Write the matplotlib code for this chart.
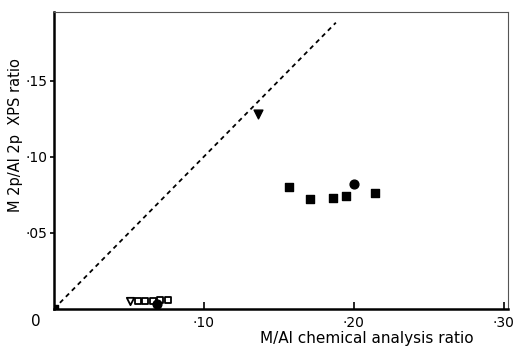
import matplotlib
matplotlib.use('Agg')
import matplotlib.pyplot as plt

# filled squares
sq_x = [0.0, 0.157, 0.171, 0.186, 0.195, 0.214]
sq_y = [0.0, 0.080, 0.072, 0.073, 0.074, 0.076]
# open squares
osq_x = [0.056, 0.061, 0.066, 0.071, 0.076]
osq_y = [0.005, 0.005, 0.005, 0.006, 0.006]
# filled circles
circ_x = [0.200, 0.069]
circ_y = [0.082, 0.003]
# filled triangle
tri_x = [0.136]
tri_y = [0.128]
# open triangle
otri_x = [0.051]
otri_y = [0.005]
# 1:1 line
line_x = [0.0, 0.188]
line_y = [0.0, 0.188]

xticks = [0.10, 0.20, 0.30]
xlabels = ['·10', '·20', '·30']
yticks = [0.05, 0.10, 0.15]
ylabels = ['·05', '·10', '·15']

fig = plt.figure(figsize=(5.14, 3.53), dpi=100)
ax = fig.add_axes([0.105, 0.125, 0.883, 0.841])

ax.plot(line_x, line_y, color='black', linestyle=(0, (2.5, 2.2)), linewidth=1.3)
ax.scatter(sq_x, sq_y, marker='s', s=30, color='black', zorder=3)
ax.scatter(osq_x, osq_y, marker='s', s=20, facecolor='white', edgecolor='black', linewidth=1.3, zorder=3)
ax.scatter(circ_x, circ_y, marker='o', s=40, color='black', zorder=4)
ax.scatter(tri_x, tri_y, marker='v', s=40, color='black', zorder=3)
ax.scatter(otri_x, otri_y, marker='v', s=28, facecolor='white', edgecolor='black', linewidth=1.3, zorder=3)

ax.set_xlim(0, 0.3027)
ax.set_ylim(0, 0.195)
ax.set_xticks(xticks)
ax.set_xticklabels(xlabels, fontsize=10)
ax.set_yticks(yticks)
ax.set_yticklabels(ylabels, fontsize=10)
ax.tick_params(axis='x', direction='in', length=5, width=1.2, pad=5)
ax.tick_params(axis='y', direction='out', length=3, width=1.2, pad=2)

for s in ['left', 'bottom']:
    ax.spines[s].set_linewidth(1.8)
for s in ['top', 'right']:
    ax.spines[s].set_linewidth(0.8)
    ax.spines[s].set_color('#555555')

ax.text(-0.012, -0.008, '0', fontsize=11, ha='center', va='center')
ax.set_xlabel('M/Al chemical analysis ratio', fontsize=11, labelpad=0)
ax.xaxis.set_label_coords(0.69, -0.075)
ax.set_ylabel('M 2p/Al 2p  XPS ratio', fontsize=10.5)
ax.yaxis.set_label_coords(-0.068, 0.585)

fig.savefig('out.png', dpi=100)
